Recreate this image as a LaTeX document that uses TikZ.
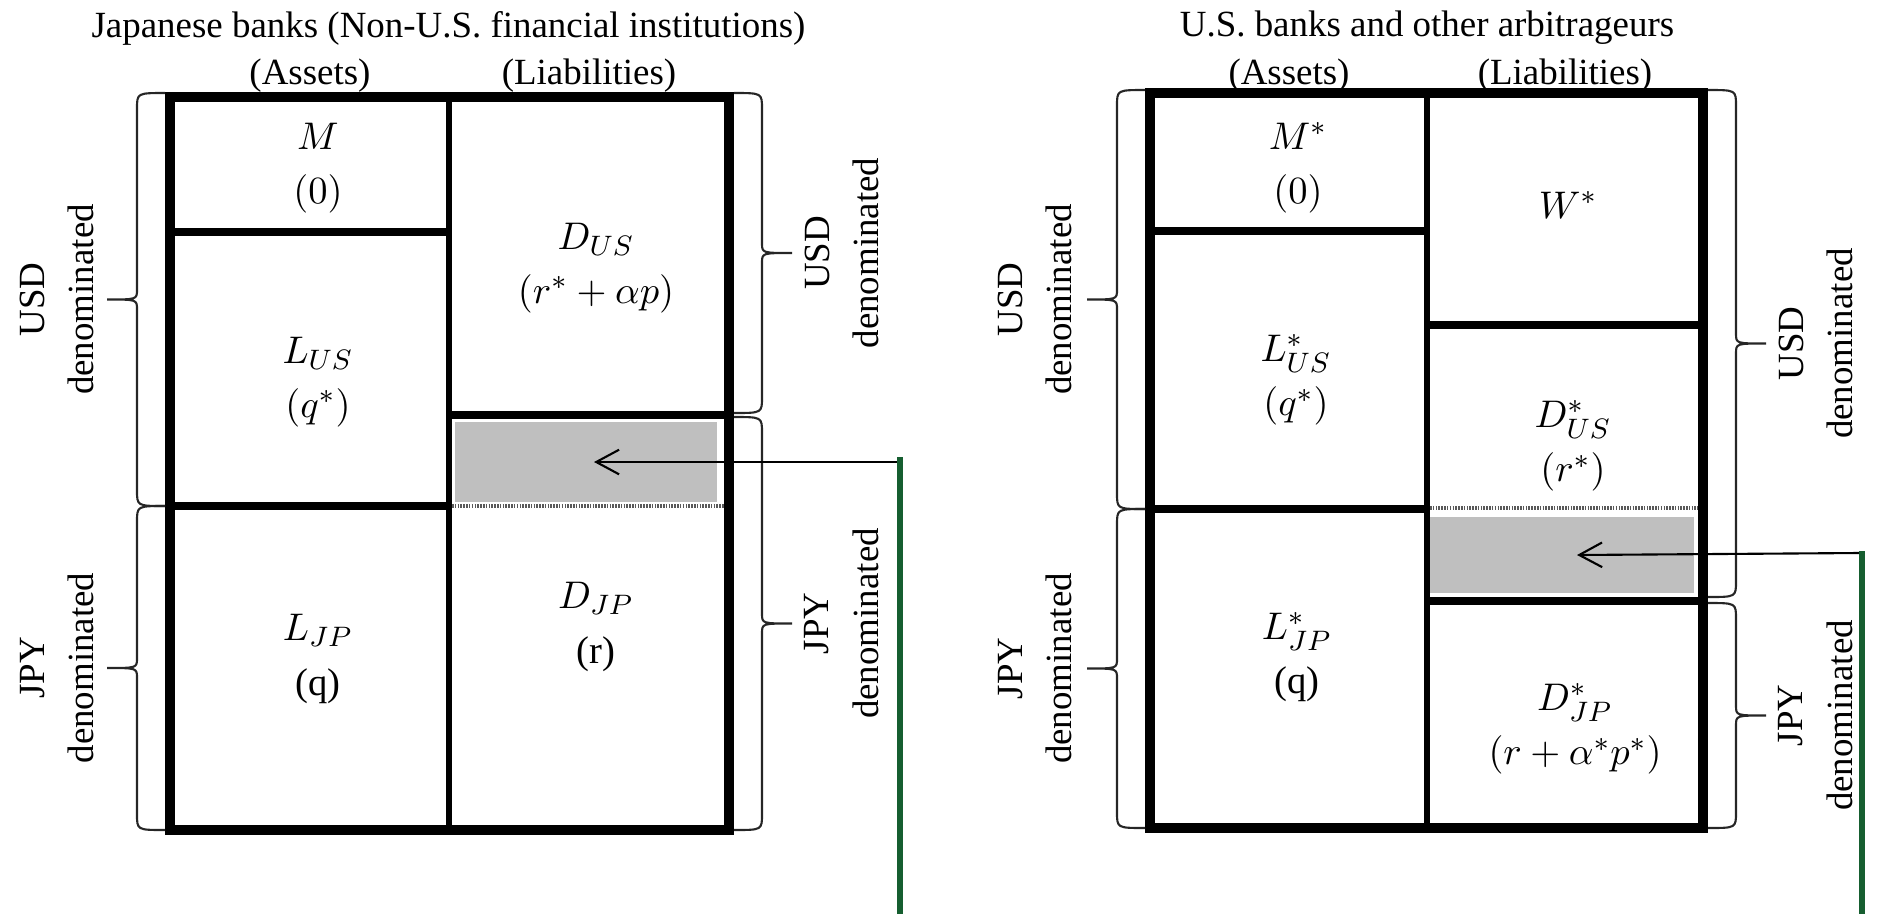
\documentclass[tikz,border=0pt]{standalone}
\usepackage{fontspec}
\setmainfont{Liberation Serif}
\usetikzlibrary{arrows.meta}

\definecolor{gapgray}{RGB}{191,191,191}
\definecolor{linegreen}{RGB}{22,94,48}

\tikzset{
  boxline/.style={line width=2.85pt},
  cellline/.style={line width=2.2pt},
  colline/.style={line width=1.6pt},
  seamline/.style={line width=1.2pt, black!65, dash pattern=on 0.45pt off 0.35pt},
  gapbox/.style={fill=gapgray, draw=none, inner sep=0pt},
  headtext/.style={font=\fontsize{10.5}{12.5}\selectfont, inner sep=0pt},
  celltext/.style={font=\fontsize{11}{15.5}\selectfont, align=center, inner sep=0pt},
  sidetext/.style={font=\fontsize{10.5}{14}\selectfont, align=center, rotate=90, inner sep=0pt},
  bracepen/.style={line width=0.6pt, black!85},
  pointer/.style={-{Straight Barb[length=6.5pt,width=7pt]}, line width=0.6pt},
  greenline/.style={linegreen, line width=1.7pt}
}

% side brace: edge x, direction (-1 left / 1 right), top y, bottom y, tip name
\newcommand{\sidebrace}[5]{%
  \pgfmathsetmacro{\brS}{#1+28*#2}
  \pgfmathsetmacro{\brT}{#1+58*#2}
  \pgfmathsetmacro{\brM}{(#3+#4)/2}
  \draw[bracepen] (#1,#3) .. controls (\brS,#3) .. (\brS,#3+16)
    -- (\brS,\brM-10) .. controls (\brS,\brM) .. (\brT,\brM)
    .. controls (\brS,\brM) .. (\brS,\brM+10)
    -- (\brS,#4-16) .. controls (\brS,#4) .. (#1,#4);
  \coordinate (#5) at (\brT,\brM);
}

\begin{document}
\begin{tikzpicture}[x=0.01cm, y=-0.01cm]
\useasboundingbox (0,0) rectangle (1878,914);

% Japanese banks
\node[headtext] (titleJ) at (448.5,28) {Japanese banks (Non-U.S. financial institutions)};
\node[gapbox, minimum width=2.62cm, minimum height=0.80cm] (gapJ) at (586,462) {};
\draw[boxline] (170,97) rectangle (729,830);
\draw[colline] (449,97) -- (449,830);
\draw[cellline] (170,232) -- (449,232);
\draw[cellline] (170,506) -- (449,506);
\draw[cellline] (449,415) -- (729,415);
\draw[seamline] (452,506) -- (724,506);

\node[celltext] (mJ) at (318,168) {$M$\\$(0)$};
\node[celltext] (lusJ) at (318,382) {$L_{US}$\\$(q^*)$};
\node[celltext] (dusJ) at (596,268) {$D_{US}$\\$(r^*+\alpha p)$};
\node[celltext] (ljpJ) at (318,659) {$L_{JP}$\\(q)};
\node[celltext] (djpJ) at (596,627) {$D_{JP}$\\(r)};

\sidebrace{165}{-1}{93}{506}{tipJa}
\sidebrace{165}{-1}{506}{830}{tipJb}
\sidebrace{734}{1}{93}{413}{tipJc}
\sidebrace{734}{1}{417}{830}{tipJd}
\node[sidetext, anchor=south] (usdJl) at ([xshift=-0.12cm]tipJa) {USD\\denominated};
\node[sidetext, anchor=south] (jpyJl) at ([xshift=-0.12cm]tipJb) {JPY\\denominated};
\node[sidetext, anchor=north] (usdJr) at ([xshift=0.12cm]tipJc) {USD\\denominated};
\node[sidetext, anchor=north] (jpyJr) at ([xshift=0.12cm]tipJd) {JPY\\denominated};

\coordinate (greenJ) at (900,457);
\coordinate (greenJend) at (900,914);
\coordinate (tailJ) at (897,462);
\draw[greenline] (greenJ) -- (greenJend);
\draw[pointer] (tailJ) -- ([xshift=0.08cm]gapJ.center);

% U.S. banks
\node[headtext] (titleU) at (1427,28) {U.S. banks and other arbitrageurs};
\node[gapbox, minimum width=2.65cm, minimum height=0.76cm] (gapU) at (1561.5,555) {};
\draw[boxline] (1150,93) rectangle (1703,828);
\draw[colline] (1427,93) -- (1427,828);
\draw[cellline] (1150,231) -- (1427,231);
\draw[cellline] (1150,509) -- (1427,509);
\draw[cellline] (1427,325) -- (1703,325);
\draw[cellline] (1427,601) -- (1703,601);
\draw[seamline] (1430,508) -- (1698,508);

\node[celltext] (mU) at (1298,168) {$M^*$\\$(0)$};
\node[celltext] (wU) at (1568,205) {$W^*$};
\node[celltext] (lusU) at (1296,380) {$L^*_{US}$\\$(q^*)$};
\node[celltext] (dusU) at (1573,446) {$D^*_{US}$\\$(r^*)$};
\node[celltext] (ljpU) at (1297,657) {$L^*_{JP}$\\(q)};
\node[celltext] (djpU) at (1575,729) {$D^*_{JP}$\\$(r+\alpha^*p^*)$};

\sidebrace{1145}{-1}{90}{509}{tipUa}
\sidebrace{1145}{-1}{509}{828}{tipUb}
\sidebrace{1708}{1}{90}{597}{tipUc}
\sidebrace{1708}{1}{603}{828}{tipUd}
\node[sidetext, anchor=south] (usdUl) at ([xshift=-0.14cm]tipUa) {USD\\denominated};
\node[sidetext, anchor=south] (jpyUl) at ([xshift=-0.14cm]tipUb) {JPY\\denominated};
\node[sidetext, anchor=north] (usdUr) at ([xshift=0.12cm]tipUc) {USD\\denominated};
\node[sidetext, anchor=north] (jpyUr) at ([xshift=0.12cm]tipUd) {JPY\\denominated};

\coordinate (greenU) at (1862,551);
\coordinate (greenUend) at (1862,914);
\coordinate (tailU) at (1859,553);
\draw[greenline] (greenU) -- (greenUend);
\draw[pointer] (tailU) -- ([xshift=0.155cm]gapU.center);

% column heads
\foreach \p/\xa/\xl in {J/310/589, U/1289/1565}{
    \node[headtext] (assets\p) at (\xa,76) {(Assets)};
    \node[headtext] (liab\p) at (\xl,76) {(Liabilities)};
}
\end{tikzpicture}
\end{document}
